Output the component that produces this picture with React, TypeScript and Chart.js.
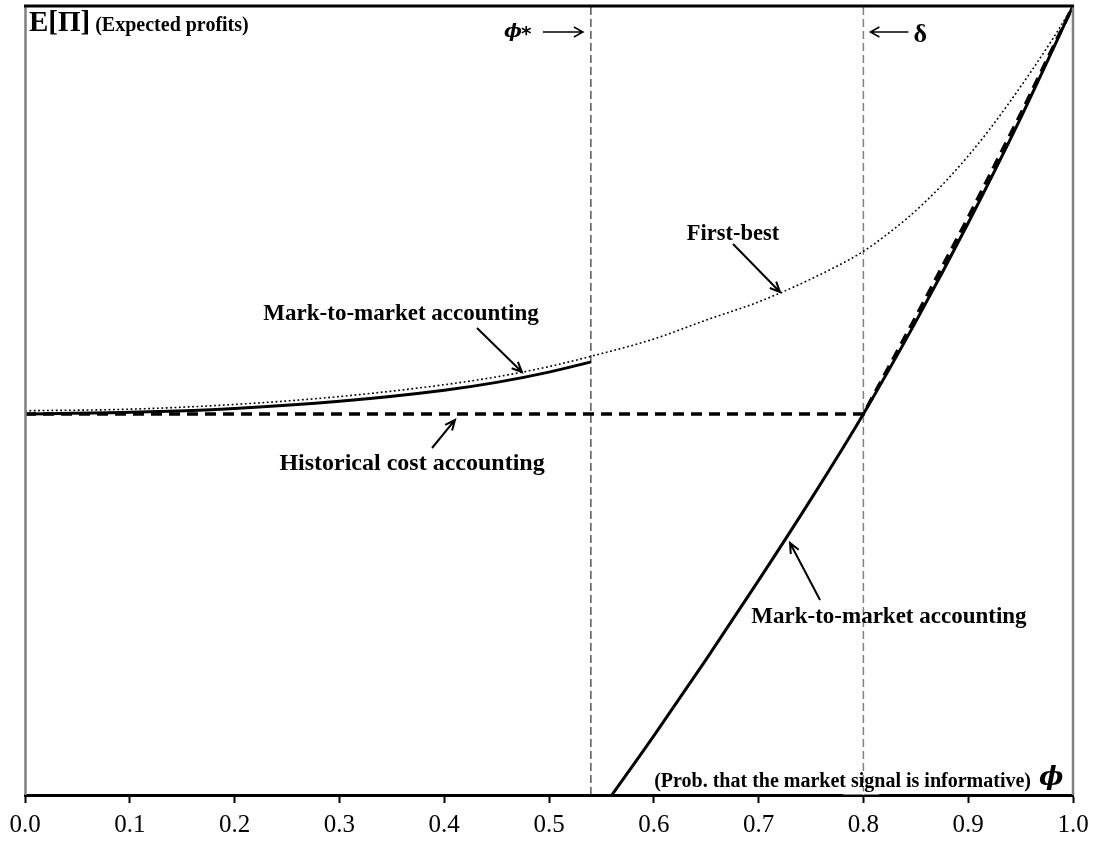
import React, { useEffect, useRef } from "react";
import { Chart, registerables } from "chart.js";

Chart.register(...registerables);

// ---- data (phi on x, expected profit index on y) ----
const xTicks = [0, 0.1, 0.2, 0.3, 0.4, 0.5, 0.6, 0.7, 0.8, 0.9, 1.0];

const firstBestX = [0, 0.1, 0.2, 0.3, 0.4, 0.45, 0.5, 0.54, 0.6, 0.65, 0.7, 0.75, 0.8, 0.82, 0.84, 0.86, 0.88, 0.9, 0.92, 0.94, 0.96, 0.98, 1.0];
const firstBestY = [48.7, 48.9, 49.5, 50.5, 52.0, 53.0, 54.3, 55.6, 57.8, 60.2, 62.5, 65.4, 68.9, 70.8, 72.9, 75.3, 78.0, 81.0, 84.3, 87.9, 91.7, 95.7, 100];

const mtmLowX = [0, 0.1, 0.2, 0.3, 0.4, 0.45, 0.5, 0.54];
const mtmLowY = [48.3, 48.5, 49.0, 49.9, 51.3, 52.3, 53.6, 54.9];

const mtmHighX = [0.56, 0.6, 0.65, 0.7, 0.75, 0.8, 0.85, 0.9, 0.95, 1.0];
const mtmHighY = [0, 7.5, 17.2, 27.2, 37.5, 48.3, 60.0, 72.5, 85.8, 100];

const histX = [0, 0.8, 0.85, 0.9, 0.95, 1.0];
const histY = [48.3, 48.3, 60.6, 73.2, 86.3, 100];

const phiStar = 0.54;
const delta = 0.8;
const yRange = [0, 100];

const pts = (xs: number[], ys: number[]) => xs.map((x, i) => ({ x, y: ys[i] }));

const SERIF = "'Liberation Serif', 'Times New Roman', serif";

function drawArrow(ctx: CanvasRenderingContext2D, x1: number, y1: number, x2: number, y2: number, head = 11, width = 2) {
  const a = Math.atan2(y2 - y1, x2 - x1);
  ctx.save();
  ctx.strokeStyle = "#000";
  ctx.lineWidth = width;
  ctx.setLineDash([]);
  ctx.beginPath();
  ctx.moveTo(x1, y1);
  ctx.lineTo(x2, y2);
  ctx.moveTo(x2 - head * Math.cos(a - 0.42), y2 - head * Math.sin(a - 0.42));
  ctx.lineTo(x2, y2);
  ctx.lineTo(x2 - head * Math.cos(a + 0.42), y2 - head * Math.sin(a + 0.42));
  ctx.stroke();
  ctx.restore();
}

const annotPlugin = {
  id: "annot",
  afterDraw(chart: any) {
    const ctx: CanvasRenderingContext2D = chart.ctx;
    const { left, right, top, bottom } = chart.chartArea;
    const sx = chart.scales.x;
    const sy = chart.scales.y;
    const P = (xv: number, yv: number) => [sx.getPixelForValue(xv), sy.getPixelForValue(yv)];

    ctx.save();
    // frame
    ctx.setLineDash([]);
    ctx.strokeStyle = "#808080";
    ctx.lineWidth = 2.5;
    ctx.beginPath();
    ctx.moveTo(left + 0.5, top);
    ctx.lineTo(left + 0.5, bottom);
    ctx.moveTo(right, top);
    ctx.lineTo(right, bottom);
    ctx.stroke();
    ctx.strokeStyle = "#000";
    ctx.lineWidth = 3;
    ctx.beginPath();
    ctx.moveTo(left - 1, top);
    ctx.lineTo(right + 1, top);
    ctx.stroke();

    ctx.fillStyle = "#000";
    ctx.textBaseline = "alphabetic";

    // y label
    ctx.textAlign = "left";
    ctx.font = `bold 29px ${SERIF}`;
    ctx.fillText("E[Π]", left + 4, top + 25);
    const w = ctx.measureText("E[Π]").width;
    ctx.font = `bold 20px ${SERIF}`;
    ctx.fillText("(Expected profits)", left + 4 + w + 5, top + 25);

    // phi* and delta markers
    const xs = sx.getPixelForValue(phiStar);
    const xd = sx.getPixelForValue(delta);
    ctx.font = `italic bold 19px 'DejaVu Serif', serif`;
    ctx.textAlign = "left";
    ctx.fillText("ϕ", xs - 87, top + 31);
    ctx.font = `bold 20px 'DejaVu Sans', sans-serif`;
    ctx.fillText("*", xs - 70, top + 34);
    ctx.save();
    ctx.lineWidth = 1.5;
    ctx.strokeStyle = "#000";
    ctx.beginPath();
    ctx.moveTo(xs - 48, top + 26);
    ctx.lineTo(xs - 8, top + 26);
    ctx.moveTo(xs - 17, top + 21);
    ctx.lineTo(xs - 8, top + 26);
    ctx.lineTo(xs - 17, top + 31);
    ctx.moveTo(xd + 7, top + 26);
    ctx.lineTo(xd + 45, top + 26);
    ctx.moveTo(xd + 16, top + 21);
    ctx.lineTo(xd + 7, top + 26);
    ctx.lineTo(xd + 16, top + 31);
    ctx.stroke();
    ctx.restore();
    ctx.font = `bold 26px ${SERIF}`;
    ctx.fillText("δ", xd + 50, top + 36);

    // curve labels
    ctx.font = `bold 22.5px ${SERIF}`;
    ctx.textAlign = "center";
    let p = P(0.6756, 70.34);
    ctx.fillText("First-best", p[0], p[1]);
    ctx.font = `bold 23px ${SERIF}`;
    p = P(0.3588, 60.2);
    ctx.fillText("Mark-to-market accounting", p[0], p[1]);
    p = P(0.8244, 21.8);
    ctx.fillText("Mark-to-market accounting", p[0], p[1]);
    ctx.font = `bold 24px ${SERIF}`;
    p = P(0.3693, 41.19);
    ctx.fillText("Historical cost accounting", p[0], p[1]);

    let a = P(0.6756, 69.84), b = P(0.7204, 63.75);
    drawArrow(ctx, a[0], a[1], b[0], b[1]);
    a = P(0.4313, 59.19); b = P(0.4742, 53.61);
    drawArrow(ctx, a[0], a[1], b[0], b[1]);
    a = P(0.3884, 43.98); b = P(0.4103, 47.53);
    drawArrow(ctx, a[0], a[1], b[0], b[1]);
    a = P(0.7586, 24.71); b = P(0.73, 31.94);
    drawArrow(ctx, a[0], a[1], b[0], b[1]);

    // x axis label
    ctx.textAlign = "left";
    ctx.font = `bold 20px ${SERIF}`;
    const lab = "(Prob. that the market signal is informative)";
    const lw = ctx.measureText(lab).width;
    const lx = right - 42 - lw;
    ctx.fillStyle = "#fff";
    ctx.fillRect(lx + 189, bottom - 3.5, 36, 3);
    ctx.fillStyle = "#000";
    ctx.fillText(lab, lx, bottom - 8);
    ctx.font = `italic bold 26px 'DejaVu Serif', serif`;
    ctx.fillText("ϕ", right - 34, bottom - 10);
    ctx.restore();
  },
};

export default function App() {
  const ref = useRef<HTMLCanvasElement | null>(null);
  useEffect(() => {
    if (!ref.current) return;
    const chart = new Chart(ref.current, {
      type: "line",
      data: {
        datasets: [
          {
            label: "Mark-to-market (low)",
            data: pts(mtmLowX, mtmLowY),
            borderColor: "#000",
            borderWidth: 3,
            pointRadius: 0,
            cubicInterpolationMode: "monotone",
          },
          {
            label: "Mark-to-market (high)",
            data: pts(mtmHighX, mtmHighY),
            borderColor: "#000",
            borderWidth: 3,
            pointRadius: 0,
            cubicInterpolationMode: "monotone",
          },
          {
            label: "Historical cost",
            data: pts(histX, histY),
            borderColor: "#000",
            borderWidth: 3.5,
            borderDash: [11, 7],
            pointRadius: 0,
            tension: 0,
          },
          {
            label: "First-best",
            data: pts(firstBestX, firstBestY),
            borderColor: "#000",
            borderWidth: 1.6,
            borderDash: [1.8, 2.6],
            pointRadius: 0,
            cubicInterpolationMode: "monotone",
          },
          {
            label: "phi*",
            data: pts([phiStar, phiStar], yRange),
            borderColor: "#000",
            borderWidth: 1,
            borderDash: [8, 4],
            pointRadius: 0,
          },
          {
            label: "delta",
            data: pts([delta, delta], yRange),
            borderColor: "#808080",
            borderWidth: 1.5,
            borderDash: [8, 4],
            pointRadius: 0,
          },
        ],
      },
      options: {
        animation: false,
        responsive: false,
        devicePixelRatio: 1,
        layout: { padding: { left: 25, right: 23, top: 6, bottom: 0 } },
        plugins: { legend: { display: false }, tooltip: { enabled: false } },
        scales: {
          x: {
            type: "linear",
            min: 0,
            max: 1,
            afterBuildTicks: (s: any) => {
              s.ticks = xTicks.map((v) => ({ value: v }));
            },
            afterFit: (s: any) => {
              s.height = 49;
            },
            ticks: {
              callback: (v: any) => Number(v).toFixed(1),
              color: "#000",
              font: { family: SERIF, size: 25, lineHeight: 1.4 },
              padding: 5,
              maxRotation: 0,
              autoSkip: false,
            },
            grid: {
              display: true,
              drawOnChartArea: false,
              drawTicks: true,
              tickLength: 8,
              tickWidth: 2,
              tickColor: "#000",
            },
            border: { display: true, color: "#000", width: 3 },
          },
          y: {
            type: "linear",
            min: yRange[0],
            max: yRange[1],
            display: false,
          },
        },
      },
      plugins: [annotPlugin],
    });
    return () => chart.destroy();
  }, []);
  return (
    <div style={{ position: "absolute", left: 0, top: 0, width: 1096, height: 844, background: "#fff" }}>
      <canvas ref={ref} width={1096} height={844} style={{ display: "block" }} />
    </div>
  );
}
